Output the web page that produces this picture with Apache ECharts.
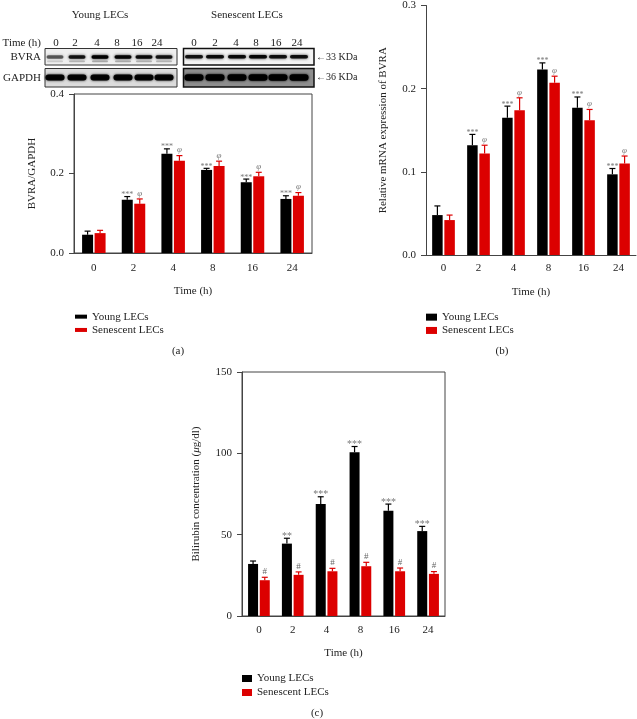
<!DOCTYPE html>
<html>
<head>
<meta charset="utf-8">
<script src="https://cdn.jsdelivr.net/npm/echarts@6/dist/echarts.min.js"></script>
<style>html,body{margin:0;padding:0;background:#fff;}#c{width:637px;height:719px;}</style>
</head>
<body>
<div id="c"></div>
<script>
// ---------------- DATA ----------------
const categories = ['0', '2', '4', '8', '16', '24'];
const seriesNames = ['Young LECs', 'Senescent LECs'];

// Panel (a): BVRA/GAPDH
const aYoung = [0.046, 0.134, 0.250, 0.209, 0.178, 0.136];
const aYoungErr = [0.009, 0.008, 0.012, 0.004, 0.008, 0.008];
const aSen = [0.050, 0.124, 0.232, 0.219, 0.193, 0.144];
const aSenErr = [0.007, 0.012, 0.013, 0.012, 0.010, 0.008];
const aYoungSig = ['', '***', '***', '***', '***', '***'];
const aSenSig = ['', 'φ', 'φ', 'φ', 'φ', 'φ'];

// Panel (b): relative mRNA expression of BVRA
const bYoung = [0.048, 0.132, 0.165, 0.223, 0.177, 0.097];
const bYoungErr = [0.011, 0.013, 0.014, 0.008, 0.013, 0.007];
const bSen = [0.042, 0.122, 0.174, 0.207, 0.162, 0.110];
const bSenErr = [0.006, 0.010, 0.015, 0.008, 0.013, 0.009];
const bYoungSig = ['', '***', '***', '***', '***', '***'];
const bSenSig = ['', 'φ', 'φ', 'φ', 'φ', 'φ'];

// Panel (c): bilirubin concentration
const cYoung = [32.0, 44.5, 68.8, 100.7, 64.7, 52.2];
const cYoungErr = [1.8, 3.3, 4.5, 3.5, 4.1, 2.9];
const cSen = [22.0, 25.3, 27.5, 30.6, 27.5, 25.9];
const cSenErr = [1.8, 1.8, 1.8, 2.4, 2.0, 1.4];
const cYoungSig = ['', '**', '***', '***', '***', '***'];
const cSenSig = ['#', '#', '#', '#', '#', '#'];

// Blot lane labels and relative band intensities (image decoration)
const blotLanes = ['0', '2', '4', '8', '16', '24'];
const bvraYoungBand = [0.55, 0.85, 1.0, 0.95, 0.9, 0.85];
const bvraSenBand = [0.85, 0.9, 0.92, 0.95, 0.88, 0.88];

// ---------------- STYLE ----------------
const FONT = "'Liberation Serif', 'DejaVu Serif', serif";
const BLACK = '#000000';
const RED = '#dc0000';
const AXIS = '#444';

const chart = echarts.init(document.getElementById('c'), null, {renderer: 'canvas'});

const grids = [
  {left: 74, top: 94, width: 238, height: 159, show: true, borderColor: AXIS, borderWidth: 1},
  {left: 426, top: 3, width: 210, height: 252, show: false},
  {left: 242, top: 372, width: 203, height: 244, show: true, borderColor: AXIS, borderWidth: 1}
];
const barW = [11, 10.5, 10];
const barGapPx = [1.5, 1.7, 1.7];

function xAxis(gi, gap, margin) {
  return {
    type: 'category', gridIndex: gi, data: categories,
    name: 'Time (h)', nameLocation: 'middle', nameGap: gap,
    nameTextStyle: {fontFamily: FONT, fontSize: 11, color: '#222'},
    axisLine: {lineStyle: {color: AXIS, width: 1}},
    axisTick: {alignWithLabel: true, length: 4, lineStyle: {color: AXIS}},
    axisLabel: {fontFamily: FONT, fontSize: 11, color: '#222', margin: margin},
    splitLine: {show: false}
  };
}
function yAxis(gi, max, interval, dec, name, gap, nameRich) {
  const ax = {
    type: 'value', gridIndex: gi, min: 0, max: max, interval: interval,
    name: name, nameLocation: 'middle', nameGap: gap,
    nameTextStyle: {fontFamily: FONT, fontSize: 11, color: '#222'},
    axisLine: {show: true, lineStyle: {color: AXIS, width: 1}},
    axisTick: {show: true, length: 5, lineStyle: {color: AXIS}},
    axisLabel: {fontFamily: FONT, fontSize: 11, color: '#222', margin: 10,
      formatter: v => v.toFixed(dec)},
    splitLine: {show: false}
  };
  if (nameRich) ax.nameTextStyle.rich = nameRich;
  return ax;
}

function barSeries(gi, name, data, color) {
  return {
    type: 'bar', name: name, xAxisIndex: gi, yAxisIndex: gi, data: data,
    barWidth: barW[gi], barGap: (barGapPx[gi] / barW[gi] * 100) + '%',
    itemStyle: {color: color}, emphasis: {disabled: true}, z: 2
  };
}

function errSeries(gi, means, errs, sig, color, side, sigFont, sigColor, italic) {
  const data = means.map((m, i) => [i, m, m + errs[i]]);
  return {
    type: 'custom', name: 'err' + gi + side, xAxisIndex: gi, yAxisIndex: gi,
    data: data, z: 3, silent: true,
    renderItem: function (params, api) {
      const i = api.value(0);
      const top = api.coord([i, api.value(2)]);
      const mid = api.coord([i, api.value(1)]);
      const off = side * (barW[gi] + barGapPx[gi]) / 2;
      const x = top[0] + off;
      const s = sig[params.dataIndex];
      const isStar = s.indexOf('*') >= 0;
      const children = [
        {type: 'line', shape: {x1: x, y1: mid[1], x2: x, y2: top[1]}, style: {stroke: color, lineWidth: 1.2}},
        {type: 'line', shape: {x1: x - 3, y1: top[1], x2: x + 3, y2: top[1]}, style: {stroke: color, lineWidth: 1.2}}
      ];
      if (s) {
        children.push({type: 'text', style: {
          text: s, x: x, y: top[1] + (isStar ? sigFont * 0.3 : -1),
          align: 'center', verticalAlign: 'bottom',
          fill: sigColor, fontSize: sigFont, fontFamily: FONT,
          fontStyle: italic ? 'italic' : 'normal'
        }});
      }
      return {type: 'group', children: children};
    }
  };
}

function legend(left, top, iw, ih, lh) {
  return {
    data: seriesNames, left: left, top: top, orient: 'vertical',
    icon: 'rect', itemWidth: iw, itemHeight: ih, itemGap: 0, padding: 0,
    selectedMode: false,
    textStyle: {fontFamily: FONT, fontSize: 11, color: '#222', lineHeight: lh, padding: [0, 0, 0, 0]}
  };
}

// ---------------- BLOT GRAPHICS ----------------
const g = [];
function txt(t, x, y, align, size) {
  g.push({type: 'text', x: x, y: y, style: {text: t, align: align || 'center', verticalAlign: 'middle',
    fontFamily: FONT, fontSize: size || 11, fill: '#222'}});
}
txt('Young LECs', 100, 15);
txt('Senescent LECs', 247, 15);
txt('Time (h)', 41, 43, 'right');
txt('BVRA', 41, 57, 'right');
txt('GAPDH', 41, 78, 'right');
const leftLaneX = [55, 77, 100, 123, 144, 164];
const rightLaneX = [194, 215, 237, 258, 278, 299];
const leftLabelX = [56, 75, 97, 117, 137, 157];
const rightLabelX = [194, 215, 236, 256, 276, 297];
blotLanes.forEach((l, i) => { txt(l, leftLabelX[i], 43); txt(l, rightLabelX[i], 43); });

function box(x, y, w, h, fill, stroke, lw) {
  g.push({type: 'rect', shape: {x: x, y: y, width: w, height: h},
    style: {fill: fill, stroke: stroke, lineWidth: lw}, z: 1});
}
function band(cx, cy, w, h, alpha, blur, color) {
  const c = color || '0,0,0';
  g.push({type: 'rect', shape: {x: cx - w / 2, y: cy - h / 2, width: w, height: h, r: h / 2},
    style: {fill: 'rgba(' + c + ',' + alpha + ')', shadowBlur: blur, shadowColor: 'rgba(' + c + ',' + alpha + ')'}, z: 2});
}
// left BVRA / GAPDH
box(45, 48.5, 132, 16.5, '#efefef', '#333', 1);
box(45, 68.5, 132, 18.5, '#dcdcdc', '#333', 1);
// right BVRA / GAPDH
box(183.5, 48.5, 130.5, 16.5, '#f3f3f3', '#111', 1.5);
box(183.5, 68.5, 130.5, 18.5, '#8e8e8e', '#111', 1.5);
leftLaneX.forEach((x, i) => {
  band(x, 57, 17, 3.5, bvraYoungBand[i], 3);
  band(x, 61.3, 16, 1.8, bvraYoungBand[i] * 0.25, 2);
  band(x, 77.5, 19, 6, 0.95, 2.5);
});
rightLaneX.forEach((x, i) => {
  band(x, 56.8, 18, 3.5, bvraSenBand[i], 3);
  band(x, 77.5, 19, 6.5, 1, 2.5);
});
txt('←33 KDa', 316, 57, 'left', 10);
txt('←36 KDa', 316, 77, 'left', 10);

txt('(a)', 178, 351);
txt('(b)', 502, 351);
txt('(c)', 317, 713);

const option = {
  animation: false,
  backgroundColor: '#fff',
  grid: grids,
  xAxis: [xAxis(0, 33, 10), xAxis(1, 32, 8), xAxis(2, 32, 9)],
  yAxis: [
    yAxis(0, 0.4, 0.2, 1, 'BVRA/GAPDH', 36),
    yAxis(1, 0.3, 0.1, 1, 'Relative mRNA expression of BVRA', 37),
    yAxis(2, 150, 50, 0, '{n|Bilirubin concentration (}{i|μ}{n|g/dl)}', 40,
      {n: {fontFamily: FONT, fontSize: 11, color: '#222'},
       i: {fontFamily: FONT, fontSize: 11, color: '#222', fontStyle: 'italic'}})
  ],
  legend: [legend(75, 310, 12, 4, 13.3), legend(426, 310.5, 11, 7, 13.3), legend(242, 671.5, 10, 7, 14)],
  graphic: g,
  series: [
    barSeries(0, seriesNames[0], aYoung, BLACK),
    barSeries(0, seriesNames[1], aSen, RED),
    errSeries(0, aYoung, aYoungErr, aYoungSig, BLACK, -1, 8, '#777', false),
    errSeries(0, aSen, aSenErr, aSenSig, RED, 1, 9, '#777', true),
    barSeries(1, seriesNames[0], bYoung, BLACK),
    barSeries(1, seriesNames[1], bSen, RED),
    errSeries(1, bYoung, bYoungErr, bYoungSig, BLACK, -1, 8, '#777', false),
    errSeries(1, bSen, bSenErr, bSenSig, RED, 1, 9, '#777', true),
    barSeries(2, seriesNames[0], cYoung, BLACK),
    barSeries(2, seriesNames[1], cSen, RED),
    errSeries(2, cYoung, cYoungErr, cYoungSig, BLACK, -1, 10, '#777', false),
    errSeries(2, cSen, cSenErr, cSenSig, RED, 1, 9, '#666', false)
  ]
};
chart.setOption(option);
</script>
</body>
</html>
